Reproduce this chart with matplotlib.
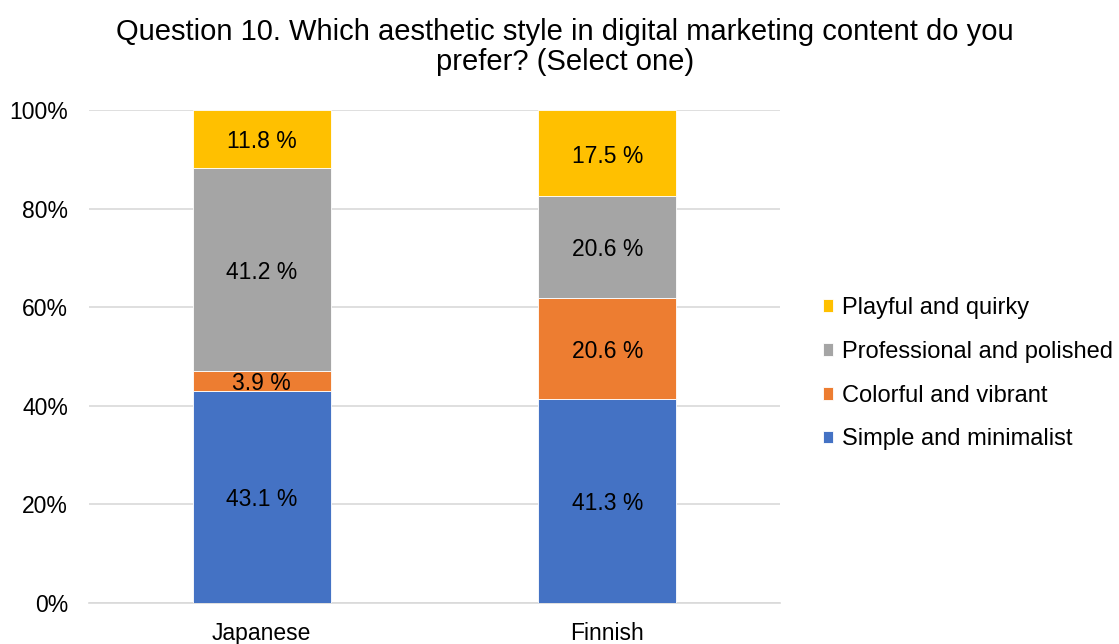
import matplotlib
matplotlib.use("Agg")
import numpy as np
from matplotlib import pyplot as plt

plt.rcParams['font.family'] = ['Liberation Sans', 'DejaVu Sans']

groups = ["Japanese", "Finnish"]
series = ["Simple and minimalist", "Colorful and vibrant",
          "Professional and polished", "Playful and quirky"]
values = {
    "Simple and minimalist": [43.1, 41.3],
    "Colorful and vibrant": [3.9, 20.6],
    "Professional and polished": [41.2, 20.6],
    "Playful and quirky": [11.8, 17.5],
}
colors = ["#4472C4", "#ED7D31", "#A5A5A5", "#FFC000"]
yticks = [0, 20, 40, 60, 80, 100]

fig = plt.figure(figsize=(11.19, 6.44), dpi=100)
ax = fig.add_axes([0.0795, 0.0637, 0.6175, 0.7653])

x = np.arange(len(groups))
bottom = np.zeros(len(groups))
handles = []
for name, col in zip(series, colors):
    vals = np.array(values[name])
    b = ax.bar(x, vals, 0.4, bottom=bottom, color=col, edgecolor="white",
               linewidth=0.6, label=name, zorder=3)
    handles.append(b)
    # value labels in the middle of each segment
    for xi, v, b0 in zip(x, vals, bottom):
        ax.annotate("%.1f %%" % v, (xi, b0 + v / 2), xytext=(0, -2),
                    textcoords="offset points", ha="center", va="center",
                    fontsize=16.5, color="black", zorder=4)
    bottom += vals

ax.set_xlim(-0.5, 1.5)
ax.set_ylim(0, 100)
ax.set_yticks(yticks)
ax.set_yticklabels(["%d%%" % t for t in yticks], fontsize=16.5)
ax.set_xticks(x)
ax.set_xticklabels(groups, fontsize=16.5)
ax.tick_params(axis="y", length=0, pad=15)
ax.tick_params(axis="x", length=0, pad=14)
ax.yaxis.grid(True, color="#D9D9D9", linewidth=1.2, zorder=0)
for s in ["top", "right", "left"]:
    ax.spines[s].set_visible(False)
ax.spines["bottom"].set_color("#D9D9D9")
ax.spines["bottom"].set_linewidth(1.2)

fig.text(0.505, 0.927, "Question 10. Which aesthetic style in digital marketing content do you\nprefer? (Select one)",
         ha="center", va="center", fontsize=21, linespacing=1.12)

ax.legend(handles[::-1], series[::-1], loc="center left",
          bbox_to_anchor=(1.031, 0.465), frameon=False, fontsize=17,
          handlelength=0.45, handleheight=0.45, handletextpad=0.38,
          labelspacing=0.92)

fig.savefig("out.png", dpi=100)
